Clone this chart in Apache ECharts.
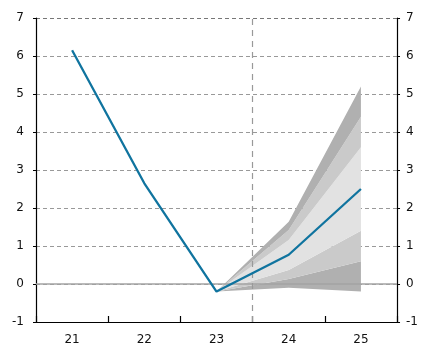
<!DOCTYPE html>
<html><head><meta charset="utf-8">
<script src="https://cdn.jsdelivr.net/npm/echarts@6/dist/echarts.min.js"></script>
<style>html,body{margin:0;padding:0;background:#fff}#c{width:421px;height:347px}</style>
</head><body><div id="c"></div>
<script>
var categories = ['21','22','23','24','25'];
var yTicks = [-1,0,1,2,3,4,5,6,7];
var mainValues = [6.15, 2.65, -0.2, 0.77, 2.5];
// fan band edges (lower to upper)
var fanEdge0 = ['-','-',-0.2,-0.1,-0.2];
var fanEdge1 = ['-','-',-0.2,0.13,0.6];
var fanEdge2 = ['-','-',-0.2,0.37,1.4];
var fanEdge3 = ['-','-',-0.2,1.16,3.6];
var fanEdge4 = ['-','-',-0.2,1.42,4.4];
var fanEdge5 = ['-','-',-0.2,1.64,5.2];
var forecastStart = 3; // boundary before category '24'

var edges = [fanEdge0, fanEdge1, fanEdge2, fanEdge3, fanEdge4, fanEdge5];
var bandColors = ['#b0b0b0','#cacaca','#e2e2e2','#cacaca','#b0b0b0'];
function diff(a,b){return a.map(function(v,i){return v==='-'?'-':+(v-b[i]).toFixed(3);});}

var series = [];
series.push({type:'line', stack:'fan', stackStrategy:'all', data:fanEdge0, symbol:'none', lineStyle:{opacity:0}, silent:true, z:1});
for (var i=1;i<edges.length;i++){
  series.push({type:'line', stack:'fan', stackStrategy:'all', data:diff(edges[i],edges[i-1]), symbol:'none',
    lineStyle:{opacity:0}, areaStyle:{color:bandColors[i-1], opacity:1}, silent:true, z:1});
}
series.push({type:'line', data:[], xAxisIndex:0, yAxisIndex:0, z:3,
  markLine:{silent:true, symbol:'none', z:3, label:{show:false}, lineStyle:{color:'#a3a3a3', type:'solid', width:1.5},
    data:[{yAxis:0}]}});
series.push({type:'line', xAxisIndex:1, yAxisIndex:0, data:[], z:3,
  markLine:{silent:true, symbol:'none', label:{show:false}, lineStyle:{color:'#999999', type:[6,5], width:1.2},
    data:[{xAxis:forecastStart}]}});
series.push({type:'line', data:mainValues, symbol:'none', lineStyle:{color:'#10749f', width:2.3}, z:5});

var chart = echarts.init(document.getElementById('c'));
chart.setOption({
  animation:false,
  textStyle:{fontFamily:'DejaVu Sans'},
  grid:{left:36, right:23, top:18, bottom:25},
  xAxis:[{
    type:'category', data:categories, boundaryGap:true,
    axisLine:{lineStyle:{color:'#000', width:1.2}, onZero:false},
    axisTick:{show:true, interval:0, inside:true, length:6, lineStyle:{color:'#000', width:1.2}},
    axisLabel:{color:'#111', fontSize:12, margin:12},
    splitLine:{show:false}
  },{
    type:'value', min:0, max:categories.length, show:false
  }],
  yAxis:[{
    type:'value', min:yTicks[0], max:yTicks[yTicks.length-1], interval:1, position:'left',
    axisLine:{show:true, lineStyle:{color:'#000', width:1.2}},
    axisTick:{show:true, inside:false, length:3, lineStyle:{color:'#000'}},
    axisLabel:{color:'#111', fontSize:12, margin:12},
    splitLine:{show:true, lineStyle:{type:[4,3], width:1.2, color:['#999','#999','#999','#999','#999','#999','#999','#999','#777']}}
  },{
    type:'value', min:yTicks[0], max:yTicks[yTicks.length-1], interval:1, position:'right',
    axisLine:{show:true, lineStyle:{color:'#000', width:1.2}},
    axisTick:{show:true, inside:false, length:3, lineStyle:{color:'#000'}},
    axisLabel:{color:'#111', fontSize:12, margin:9},
    splitLine:{show:false}
  }],
  series:series
});
</script></body></html>
